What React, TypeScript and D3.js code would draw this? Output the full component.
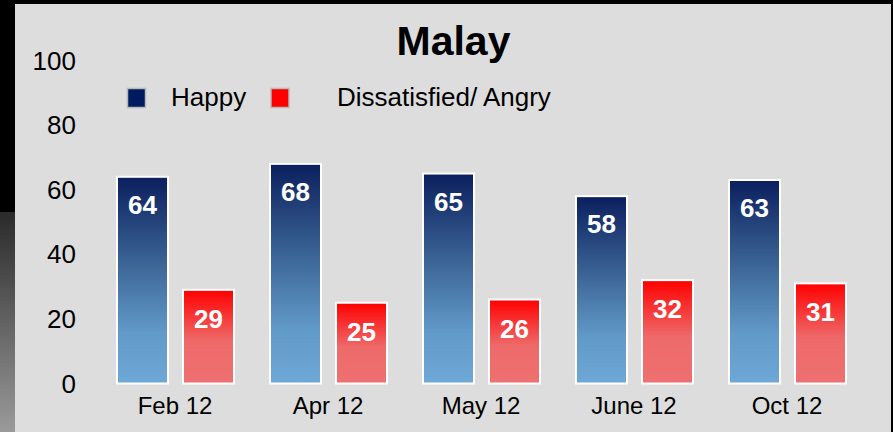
import React from "react";
import * as d3 from "d3";

const categories = ["Feb 12", "Apr 12", "May 12", "June 12", "Oct 12"];
const happy = [64, 68, 65, 58, 63];
const angry = [29, 25, 26, 32, 31];
const yTicks = [0, 20, 40, 60, 80, 100];
const seriesNames = ["Happy", "Dissatisfied/ Angry"];

export default function App() {
  const W = 893, H = 432;
  const x = d3.scaleBand<string>().domain(categories).range([98.5, 863.5]);
  const y = d3.scaleLinear().domain([0, 100]).range([383.5, 60.5]);
  const barW = 51;
  const font = "Liberation Sans, Arial, sans-serif";
  return (
    <svg width={W} height={H} style={{ position: "absolute", left: 0, top: 0, display: "block" }}>
      <defs>
        <linearGradient id="blueG" x1="0" y1="0" x2="0" y2="1">
          <stop offset="0" stopColor="#0b1f5e" />
          <stop offset="0.45" stopColor="#3f6a9a" />
          <stop offset="0.75" stopColor="#6199c8" />
          <stop offset="1" stopColor="#6ea8d6" />
        </linearGradient>
        <linearGradient id="redG" x1="0" y1="0" x2="0" y2="1">
          <stop offset="0" stopColor="#ff0000" />
          <stop offset="0.55" stopColor="#ee6a6a" />
          <stop offset="1" stopColor="#ee7070" />
        </linearGradient>
        <linearGradient id="sideG" x1="0" y1="0" x2="0" y2="1">
          <stop offset="0" stopColor="#2a2a2a" />
          <stop offset="1" stopColor="#9a9a9a" />
        </linearGradient>
      </defs>
      <rect x={0} y={0} width={W} height={H} fill="#000" />
      <rect x={0} y={212} width={15} height={H - 212} fill="url(#sideG)" />
      <rect x={15} y={4} width={876} height={H - 4} fill="#dddddd" />
      <text x={453.5} y={54.5} textAnchor="middle" fontFamily={font} fontWeight="bold" fontSize={41} fill="#000">Malay</text>
      {yTicks.map((t) => (
        <text key={t} x={76} y={y(t) + 9} textAnchor="end" fontFamily={font} fontSize={26} fill="#000">{t}</text>
      ))}
      <rect x={127.5} y={88.5} width={18} height={19} fill="#001a5e" stroke="#b8b8b8" strokeWidth={1.5} />
      <text x={171} y={106} fontFamily={font} fontSize={26} fill="#000">{seriesNames[0]}</text>
      <rect x={271} y={88.5} width={18} height={19} fill="#ff0000" stroke="#b8b8b8" strokeWidth={1.5} />
      <text x={337} y={106} fontFamily={font} fontSize={26} fill="#000">{seriesNames[1]}</text>
      {categories.map((c, i) => {
        const bx = x(c)!;
        const hx = bx + 18.5;
        const rx = bx + 84.5;
        return (
          <g key={c}>
            <rect x={hx} y={y(happy[i])} width={barW} height={y(0) - y(happy[i])} fill="url(#blueG)" stroke="#fff" strokeWidth={2} />
            <text x={hx + barW / 2} y={y(happy[i]) + 37} textAnchor="middle" fontFamily={font} fontWeight="bold" fontSize={26} fill="#fff">{happy[i]}</text>
            <rect x={rx} y={y(angry[i])} width={barW} height={y(0) - y(angry[i])} fill="url(#redG)" stroke="#fff" strokeWidth={2} />
            <text x={rx + barW / 2} y={y(angry[i]) + 38} textAnchor="middle" fontFamily={font} fontWeight="bold" fontSize={26} fill="#fff">{angry[i]}</text>
            <text x={bx + x.bandwidth() / 2} y={414} textAnchor="middle" fontFamily={font} fontSize={24} fill="#000">{c}</text>
          </g>
        );
      })}
    </svg>
  );
}
